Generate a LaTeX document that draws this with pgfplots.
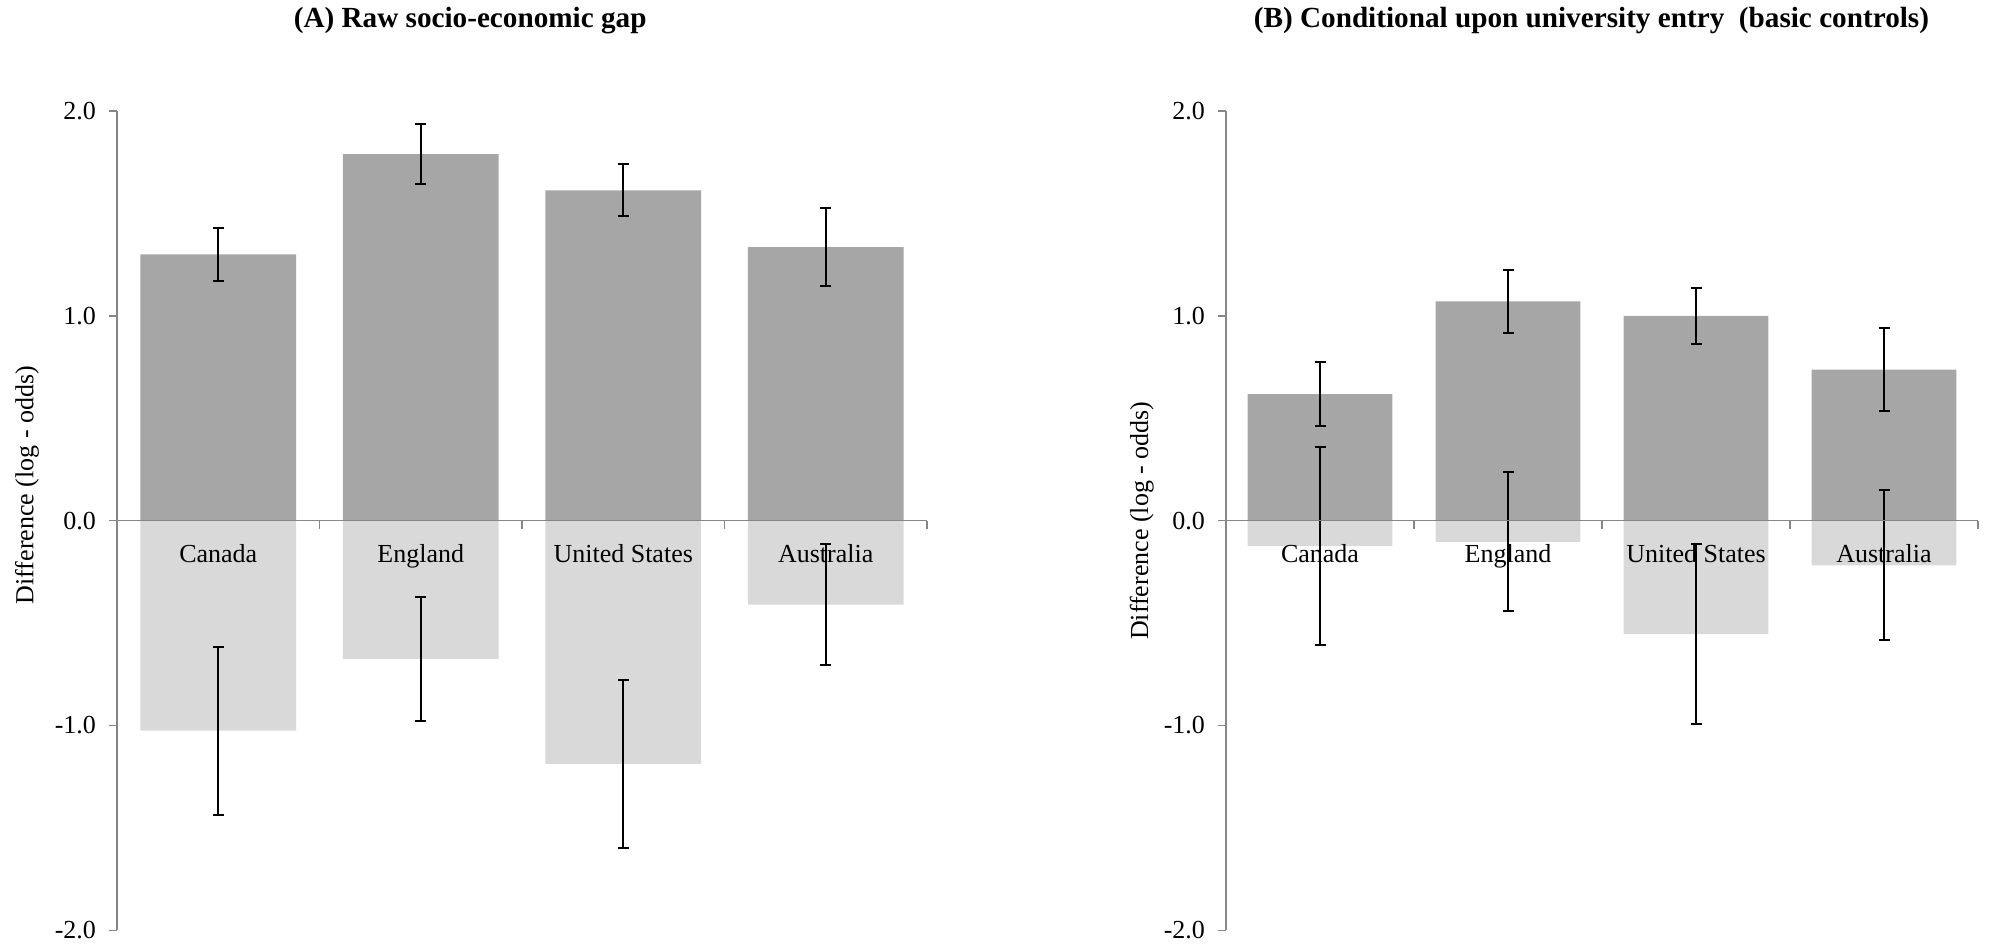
\documentclass[border=0pt]{standalone}
\usepackage{fontspec}
\setmainfont{Liberation Serif}
\usepackage{pgfplots}
\usepackage{pgfplotstable}
\pgfplotsset{compat=1.18}
\definecolor{darkbar}{HTML}{A6A6A6}
\definecolor{lightbar}{HTML}{D9D9D9}
\definecolor{axisgray}{HTML}{868686}

\pgfplotstableread{
x y e
0 1.300 0.130
1 1.790 0.145
2 1.613 0.127
3 1.335 0.190
}\rawup
\pgfplotstableread{
x y e
0 -1.025 0.410
1 -0.675 0.302
2 -1.187 0.410
3 -0.410 0.295
}\rawdown
\pgfplotstableread{
x y e
0 0.618 0.155
1 1.070 0.153
2 1.000 0.136
3 0.738 0.204
}\condup
\pgfplotstableread{
x y e
0 -0.124 0.483
1 -0.103 0.340
2 -0.554 0.439
3 -0.218 0.366
}\conddown

\pgfplotsset{
  gapstyle/.style={
    scale only axis, height=409.7pt,
    ymin=-2, ymax=2, xmin=-0.5, xmax=3.5,
    axis y line=left, axis x line=middle,
    axis on top,
    axis line style={-, draw=axisgray, line width=0.8pt},
    ytick={-2,-1,0,1,2}, yticklabels={-2.0,-1.0,0.0,1.0,2.0},
    yticklabel style={xshift=-3pt},
    xtick={0.5,1.5,2.5,3.5}, xticklabels={},
    extra x ticks={0,1,2,3},
    extra x tick labels={Canada,England,United States,Australia},
    extra x tick style={major tick length=0pt, xticklabel style={anchor=north, yshift=-8.5pt}},
    tick align=outside, major tick length=4pt,
    tick style={draw=axisgray, line width=0.8pt},
    font=\fontsize{13}{15}\selectfont,
    ybar, bar width=0.77, bar shift=0pt,
    clip=false,
  },
  barsdark/.style={fill=darkbar, draw=none,
    error bars/.cd, y dir=both, y explicit,
    error bar style={black, line width=1pt},
    error mark options={black, rotate=90, mark size=2.75pt, line width=1pt}},
  barslight/.style={fill=lightbar, draw=none,
    error bars/.cd, y dir=both, y explicit,
    error bar style={black, line width=1pt},
    error mark options={black, rotate=90, mark size=2.75pt, line width=1pt}},
}

\begin{document}
\begin{tikzpicture}
\path[use as bounding box] (0,0) rectangle (996pt,472.5pt);
\begin{axis}[gapstyle, at={(58.5pt,7.3pt)}, anchor=south west, width=405pt,
  ylabel={Difference (log - odds)},
  ylabel style={at={(axis description cs:-0.111,0.5436)}, anchor=center}]
\addplot[barsdark] table[x=x, y=y, y error=e] {\rawup};
\addplot[barslight] table[x=x, y=y, y error=e] {\rawdown};
\node[font=\fontsize{14.6}{17}\selectfont\bfseries, anchor=center]
  at (rel axis cs:0.436,1.1106) {(A) Raw socio-economic gap};
\end{axis}
\begin{axis}[gapstyle, at={(613pt,7.3pt)}, anchor=south west, width=376pt,
  ylabel={Difference (log - odds)},
  ylabel style={at={(axis description cs:-0.112,0.5)}, anchor=center}]
\addplot[barsdark] table[x=x, y=y, y error=e] {\condup};
\addplot[barslight] table[x=x, y=y, y error=e] {\conddown};
\node[font=\fontsize{14.6}{17}\selectfont\bfseries, anchor=center]
  at (rel axis cs:0.486,1.1106) {(B) Conditional upon university entry \ (basic controls)};
\end{axis}
\end{tikzpicture}
\end{document}
